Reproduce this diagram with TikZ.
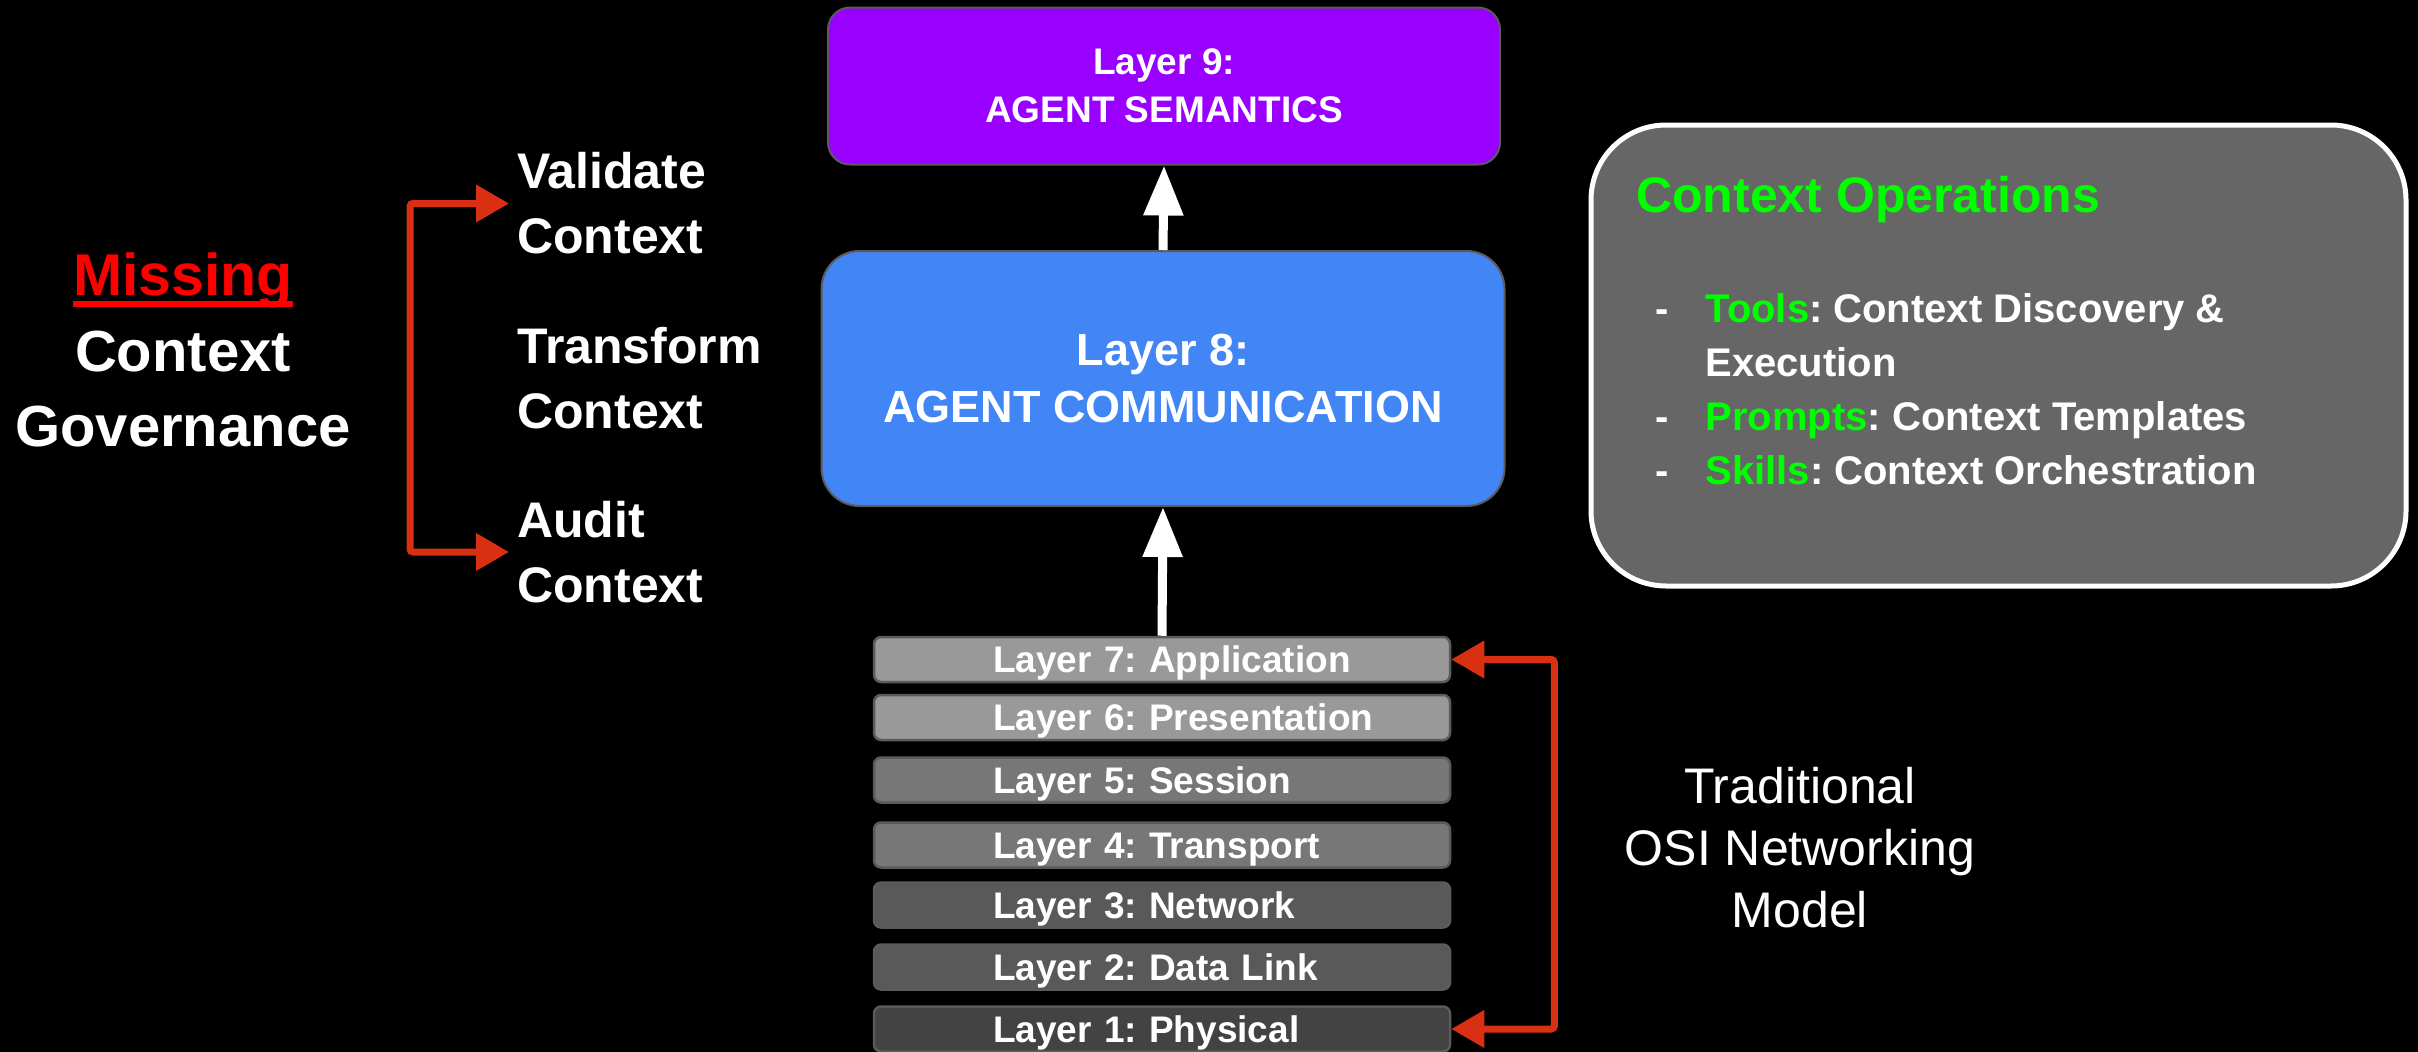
\documentclass[tikz,border=0pt]{standalone}
\usepackage{fontspec}
\setmainfont{Liberation Sans}
\usetikzlibrary{arrows.meta,positioning}
\frenchspacing
\definecolor{agentpurple}{HTML}{9900FF}
\definecolor{agentblue}{HTML}{4285F4}
\definecolor{boxedge}{HTML}{5B5B5B}
\definecolor{osilight}{HTML}{999999}
\definecolor{osimid}{HTML}{777777}
\definecolor{osidark}{HTML}{595959}
\definecolor{osideep}{HTML}{434343}
\definecolor{opsgray}{HTML}{666666}
\definecolor{arrowred}{HTML}{D93013}
\definecolor{opsgreen}{HTML}{00FF00}
\definecolor{missred}{HTML}{FF0000}
\begin{document}
\begin{tikzpicture}[x=1pt,y=-1pt,every node/.style={text=white,font=\bfseries},
  agentbox/.style={draw=boxedge,line width=2pt,align=center},
  osibox/.style={draw=boxedge,line width=2.5pt,rounded corners=7pt,minimum width=576pt,minimum height=45pt,
    text width=576pt,inner xsep=0pt,inner ysep=0pt,text height=32pt,text depth=6pt,align=left,
    font=\bfseries\fontsize{37}{44}\selectfont},
  ctxop/.style={anchor=west,inner ysep=0pt,inner xsep=8pt,align=left,font=\bfseries\fontsize{50}{65}\selectfont},
  redarrow/.style={draw=arrowred,line width=7pt,rounded corners=3pt,<->,>={Triangle[length=33pt,width=36pt]}},
  whitearrow/.style={draw=white,line width=9pt,->,>={Triangle[length=50pt,width=38pt]}}]
 \useasboundingbox (0,0) rectangle (2418,1052);
 \fill[black] (0,0) rectangle (2418,1052);
 % agent layers
 \node[agentbox,fill=agentpurple,rounded corners=22pt,minimum width=672pt,minimum height=157pt,
   font=\bfseries\fontsize{37}{48}\selectfont] (l9) at (1164,86) {Layer 9:\\AGENT SEMANTICS};
 \node[agentbox,fill=agentblue,rounded corners=38pt,minimum width=683pt,minimum height=255pt,
   font=\bfseries\fontsize{45}{57}\selectfont] (l8) at (1163,378.5) {Layer 8:\\AGENT COMMUNICATION};
 % osi stack
 \node[osibox,fill=osilight] (l7) at (1162,659.5) {\hspace*{119pt}Layer 7: Application};
 \node[osibox,fill=osilight] (l6) at (1162,717.5) {\hspace*{119pt}Layer 6: Presentation};
 \node[osibox,fill=osimid] (l5) at (1162,780) {\hspace*{119pt}Layer 5: Session};
 \node[osibox,fill=osimid] (l4) at (1162,845) {\hspace*{119pt}Layer 4: Transport};
 \node[osibox,fill=osidark] (l3) at (1162,905) {\hspace*{119pt}Layer 3: Network};
 \node[osibox,fill=osidark] (l2) at (1162,967) {\hspace*{119pt}Layer 2: Data Link};
 \node[osibox,fill=osideep] (l1) at (1162,1029) {\hspace*{119pt}Layer 1: Physical};
 \draw[whitearrow] (l7.north) -- (l8.south);
 \draw[whitearrow] (l8.north) -- (l9.south);
 \draw[redarrow] (l7.east) -- ++(103,0) |- (l1.east);
 \node[font=\fontsize{50}{62}\selectfont,align=center] (osilabel) at (1800,848) {Traditional\\OSI Networking\\Model};
 % governance side
 \node[text=missred,inner sep=0pt,font=\bfseries\fontsize{59}{75}\selectfont] (missing) at (183,280) {Missing};
 \draw[missred,line width=6pt] ([yshift=-9pt]missing.base west) -- ([yshift=-9pt]missing.base east);
 \node[align=center,font=\bfseries\fontsize{58}{75}\selectfont] (gov) at (183,389) {Context\\Governance};
 \node[ctxop] (validate) at (509,203.5) {Validate\\Context};
 \node[ctxop] (transform) at (509,378.5) {Transform\\Context};
 \node[ctxop] (audit) at (509,552) {Audit\\Context};
 \draw[redarrow] (validate.west) -- ++(-99,0) |- (audit.west);
 % operations panel
 \node[draw=white,fill=opsgray,line width=5pt,rounded corners=75pt,minimum width=815pt,minimum height=461pt] (ops) at (1998.5,355.5) {};
 \node[anchor=west,inner sep=0pt,text=opsgreen,font=\bfseries\fontsize{50}{60}\selectfont] (opstitle) at (1636,200) {Context Operations};
 \node[anchor=north west,inner sep=0pt,font=\bfseries\fontsize{40}{54}\selectfont] (opslist) at (1655,284) {%
   \begin{tabular}{@{}l@{\hspace{37pt}}l@{}}
    - & \textcolor{opsgreen}{Tools}: Context Discovery \& \\
      & Execution \\
    - & \textcolor{opsgreen}{Prompts}: Context Templates \\
    - & \textcolor{opsgreen}{Skills}: Context Orchestration
   \end{tabular}};
\end{tikzpicture}
\end{document}
